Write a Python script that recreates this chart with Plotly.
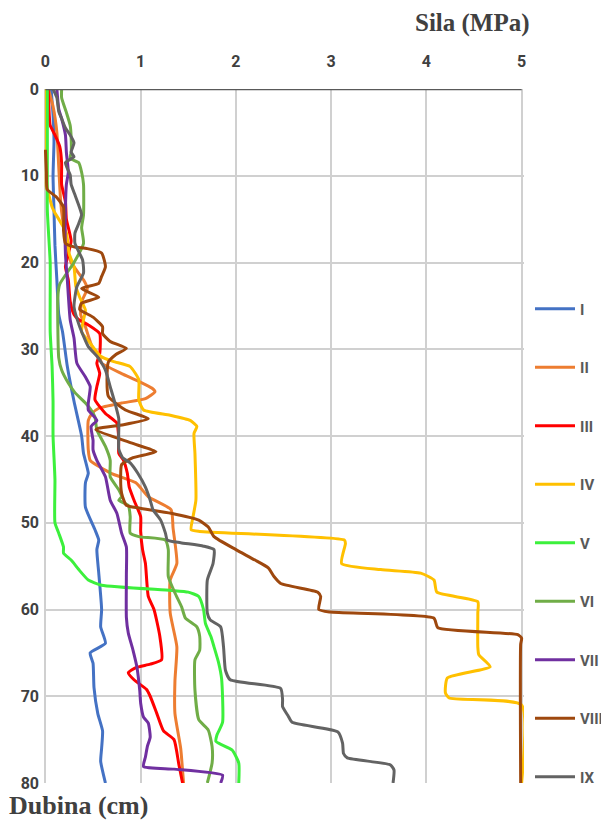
import plotly.graph_objects as go

names = ["I", "II", "III", "IV", "V", "VI", "VII", "VIII", "IX"]
colors = ["#4472C4", "#ED7D31", "#FF0000", "#FFC000", "#3CF03C",
          "#70AD47", "#7030A0", "#9E480E", "#636363"]

# depth (cm) and force (MPa) for each series
depth_I = [0, 3, 6, 10, 14, 18, 22, 26, 28, 32, 36, 40, 42, 44.3, 45.4, 48.2, 50.8, 52, 53.1,
           55.8, 60, 62, 63.9, 65, 66.2, 69, 72, 74, 76, 77.5, 80]
force_I = [0.06, 0.08, 0.09, 0.08, 0.09, 0.10, 0.12, 0.14, 0.18, 0.23, 0.30, 0.38, 0.40, 0.45,
           0.42, 0.42, 0.52, 0.56, 0.54, 0.56, 0.59, 0.58, 0.63, 0.47, 0.50, 0.51, 0.55, 0.60,
           0.59, 0.58, 0.63]

depth_II = [0, 2, 5, 9, 13, 15, 17.8, 20, 22, 23, 24.5, 26, 27.4, 29.7, 30.9, 31.6, 32.8, 33.7,
            34.5, 34.9, 35.7, 36.2, 36.8, 37.4, 38.2, 41.6, 42.8, 44.3, 45.4, 47, 48.5, 50.6,
            54.7, 56.6, 60.4, 64.3, 68.2, 72, 76, 80]
force_II = [0.03, 0.08, 0.12, 0.14, 0.16, 0.18, 0.22, 0.27, 0.40, 0.44, 0.38, 0.37, 0.42, 0.49,
            0.57, 0.59, 0.80, 0.98, 1.12, 1.15, 1.05, 0.80, 0.56, 0.49, 0.45, 0.45, 0.47, 0.69,
            0.95, 1.08, 1.32, 1.34, 1.38, 1.31, 1.31, 1.38, 1.36, 1.36, 1.42, 1.45]

depth_III = [0, 3, 4.2, 5.3, 6.6, 8.5, 11, 13, 15, 17.5, 19, 20.5, 22, 24.5, 26, 26.6, 27.2,
             28.2, 30.5, 31.6, 32.8, 34.3, 35.8, 37.4, 38.5, 40.4, 42, 42.8, 44.3, 45.9, 47.4,
             49.3, 51, 53.1, 54.7, 58.5, 60, 63, 65.8, 66.3, 66.7, 67.3, 68.1, 69.2, 70, 72,
             74, 75, 77.8, 80]
force_III = [0.03, 0.04, 0.05, 0.10, 0.15, 0.17, 0.17, 0.21, 0.22, 0.27, 0.24, 0.21, 0.24, 0.26,
             0.30, 0.35, 0.45, 0.57, 0.57, 0.54, 0.57, 0.54, 0.52, 0.63, 0.75, 0.77, 0.77, 0.82,
             0.86, 0.88, 0.93, 1.00, 1.00, 1.02, 1.05, 1.08, 1.14, 1.20, 1.22, 1.10, 0.95, 0.87,
             0.93, 1.06, 1.10, 1.17, 1.24, 1.35, 1.40, 1.44]

depth_IV = [0, 5, 7, 9, 11.3, 12, 13.6, 14.3, 15, 16.6, 19, 20.5, 22.8, 24, 25.5, 26.6, 28,
            29.3, 30.8, 31.4, 32, 33.5, 35.8, 37, 37.6, 38.2, 38.9, 39.7, 42, 47.4, 49.3, 50.8,
            51.0, 52.0, 52.4, 54.7, 55.4, 55.8, 56.6, 58, 59.1, 60.4, 64.3, 65.2, 66.6, 67.9,
            69.6, 70.2, 71, 80]
force_IV = [0.01, 0.01, 0.01, 0.01, 0.01, 0.03, 0.07, 0.10, 0.14, 0.22, 0.25, 0.30, 0.32, 0.36,
            0.42, 0.40, 0.38, 0.47, 0.58, 0.71, 0.89, 0.98, 0.98, 1.03, 1.31, 1.52, 1.59, 1.56,
            1.57, 1.58, 1.55, 1.53, 1.62, 3.14, 3.15, 3.11, 3.52, 3.94, 4.08, 4.11, 4.54, 4.54,
            4.54, 4.55, 4.67, 4.22, 4.20, 4.24, 5.0, 5.0]

depth_V = [0, 8, 14, 20, 24, 28, 32, 36, 40, 45, 50, 51.2, 52.8, 53.5, 54.3, 55.4, 56.6, 57.2,
           57.8, 58, 58.5, 60, 61.6, 63.2, 64.3, 66.2, 68, 73, 74.5, 75.2, 76.2, 77.7, 80]
force_V = [0.02, 0.02, 0.02, 0.05, 0.05, 0.05, 0.07, 0.08, 0.08, 0.10, 0.10, 0.14, 0.19, 0.19,
           0.27, 0.35, 0.45, 0.59, 1.32, 1.50, 1.61, 1.66, 1.68, 1.74, 1.77, 1.82, 1.85, 1.86,
           1.80, 1.79, 1.96, 2.03, 2.03]

depth_VI = [0, 1, 2.7, 4.2, 5.6, 7.3, 8, 8.5, 9.6, 11, 14.5, 16, 17.8, 20, 22.5, 24, 31, 32.4,
            33.9, 35, 36.2, 37, 37.8, 39.3, 41.2, 42.8, 44.7, 46.2, 47, 47.4, 48, 49.3, 51.2,
            51.6, 52, 53.1, 56.2, 58.1, 59.7, 61, 62, 63.1, 64.7, 65.8, 69.3, 72.7, 73.9, 75.8,
            77.7, 80]
force_VI = [0.17, 0.17, 0.22, 0.26, 0.27, 0.27, 0.26, 0.35, 0.38, 0.40, 0.40, 0.38, 0.40, 0.30,
            0.15, 0.13, 0.14, 0.17, 0.24, 0.31, 0.42, 0.48, 0.52, 0.54, 0.63, 0.68, 0.68, 0.77,
            0.80, 0.77, 0.87, 0.89, 0.89, 0.98, 1.26, 1.29, 1.29, 1.36, 1.43, 1.47, 1.59, 1.62,
            1.62, 1.57, 1.57, 1.61, 1.71, 1.75, 1.75, 1.70]

depth_VII = [0, 2.3, 3.4, 5.3, 7.3, 9.6, 11, 14, 19, 22, 26.6, 28.7, 31.6, 33.2, 34.3, 36.2, 37,
             38.2, 38.9, 40.5, 41.6, 42.8, 44.7, 47.4, 48.9, 51.2, 52.8, 56, 60.9, 62.7, 64.7,
             66.6, 69.3, 70.8, 72.4, 73.1, 74.7, 75.8, 77, 78.1, 78.4, 79.1, 80]
force_VII = [0.12, 0.14, 0.17, 0.21, 0.22, 0.24, 0.22, 0.21, 0.21, 0.23, 0.26, 0.30, 0.33, 0.42,
             0.47, 0.45, 0.45, 0.54, 0.48, 0.50, 0.50, 0.54, 0.63, 0.68, 0.75, 0.80, 0.85, 0.85,
             0.85, 0.87, 0.92, 0.96, 0.99, 1.00, 1.03, 1.08, 1.10, 1.07, 1.05, 1.03, 1.35, 1.86,
             1.84]

depth_VIII = [7, 9.6, 11.6, 12.4, 13.6, 16.3, 17.8, 18.2, 18.4, 18.9, 20.5, 21.6, 22.4, 23,
              24, 24.7, 25.4, 26.3, 27.4, 28.2, 29.1, 29.9, 30.6, 31.5, 35.4, 37, 38, 38.7,
              39.1, 39.3, 40.8, 41.8, 42.5, 43.3, 44.7, 46.6, 48, 48.3, 48.9, 49.7, 50.5, 51.6,
              53.1, 54.3, 55.2, 56.2, 57, 58, 58.5, 60, 60.3, 61, 62.1, 62.9, 63.3, 64, 80]
force_VIII = [0.0, 0.01, 0.02, 0.11, 0.19, 0.19, 0.21, 0.30, 0.44, 0.59, 0.63, 0.59, 0.56, 0.38,
              0.56, 0.38, 0.36, 0.50, 0.60, 0.60, 0.68, 0.85, 0.74, 0.66, 0.66, 0.84, 1.08, 0.82,
              0.56, 0.53, 0.90, 1.16, 0.92, 0.80, 0.79, 0.80, 0.85, 0.98, 1.32, 1.61, 1.71, 1.77,
              2.00, 2.20, 2.34, 2.40, 2.47, 2.86, 2.89, 2.87, 2.99, 4.08, 4.12, 4.96, 5.0, 4.99,
              4.99]

depth_IX = [0, 1, 2.6, 3.4, 4.5, 5.3, 6.2, 7.3, 7.8, 8.5, 9.9, 11, 12.2, 13.4, 14.5, 15.5, 16.6,
            17.8, 19.7, 21.2, 22.8, 25.1, 27.4, 29.7, 30.8, 32.4, 34.3, 36.2, 38, 41.5, 42.5,
            43.1, 44.3, 45.9, 47.4, 48.5, 49.7, 51.2, 52, 52.3, 52.7, 53.1, 54.7, 56.6, 60.4,
            61.2, 62, 64.3, 67, 68.1, 69.1, 70.4, 71.2, 72.3, 73, 74.1, 75.4, 76.6, 77.1, 77.9,
            78.5, 80]
force_IX = [0.08, 0.12, 0.14, 0.17, 0.21, 0.26, 0.30, 0.27, 0.30, 0.21, 0.26, 0.27, 0.31, 0.35,
            0.38, 0.35, 0.31, 0.31, 0.39, 0.40, 0.33, 0.30, 0.36, 0.45, 0.54, 0.63, 0.68, 0.73,
            0.77, 0.77, 0.81, 0.89, 0.97, 1.05, 1.10, 1.13, 1.21, 1.26, 1.28, 1.42, 1.66, 1.77,
            1.76, 1.70, 1.70, 1.73, 1.84, 1.87, 1.89, 1.94, 2.47, 2.49, 2.49, 2.55, 2.59, 3.07,
            3.12, 3.13, 3.17, 3.62, 3.66, 3.65]

depths = [depth_I, depth_II, depth_III, depth_IV, depth_V, depth_VI, depth_VII, depth_VIII, depth_IX]
forces = [force_I, force_II, force_III, force_IV, force_V, force_VI, force_VII, force_VIII, force_IX]

x_ticks = [0, 1, 2, 3, 4, 5]
y_ticks = [0, 10, 20, 30, 40, 50, 60, 70, 80]

fig = go.Figure()
for n, c, d, f in zip(names, colors, depths, forces):
    fig.add_trace(go.Scatter(
        x=f, y=d, mode="lines", name=n, legendgroup=n,
        line=dict(color=c, width=3, shape="spline", smoothing=0.5),
    ))

tickfont = dict(family="Roboto", size=16, color="#404040", weight="bold")

# the page body adds an 8px offset, so the figure is sized to fit the window
fig.update_layout(
    width=601, height=815,
    margin=dict(l=36, r=85, t=81, b=40, autoexpand=False),
    paper_bgcolor="white", plot_bgcolor="white",
    showlegend=True,
    legend=dict(
        x=1.0125, xanchor="left", y=0.7066, yanchor="top",
        tracegroupgap=36, itemwidth=40,
        font=dict(family="Roboto", size=15, color="#595959", weight="bold"),
        bgcolor="rgba(0,0,0,0)",
    ),
    xaxis=dict(
        side="top", range=[-0.015, 5.025], tickvals=x_ticks, automargin=False,
        showgrid=True, gridcolor="#D0D0D0", gridwidth=1.5,
        zeroline=False, showline=False,
        tickfont=tickfont, ticks="", ticklabelstandoff=18,
    ),
    yaxis=dict(
        autorange=False, range=[80, 0], tickvals=y_ticks, automargin=False,
        showgrid=True, gridcolor="#D0D0D0", gridwidth=1.5,
        zeroline=False, showline=False,
        tickfont=tickfont, ticks="", ticklabelstandoff=4,
    ),
    shapes=[dict(type="line", xref="x", yref="y", x0=0, x1=5, y0=0, y1=0,
                 line=dict(color="#595959", width=2.5), layer="above")],
    annotations=[
        dict(text="Sila (MPa)", xref="paper", yref="paper", x=1.0, xshift=8, xanchor="right",
             y=1.0, yshift=50, yanchor="bottom", showarrow=False,
             font=dict(family="Liberation Serif", size=25, color="#404040", weight="bold")),
        dict(text="Dubina (cm)", xref="paper", yref="paper", x=0, xshift=-37, xanchor="left",
             y=0, yshift=-6, yanchor="top", showarrow=False,
             font=dict(family="Liberation Serif", size=26, color="#404040", weight="bold")),
    ],
)

fig.write_html("out.html")
